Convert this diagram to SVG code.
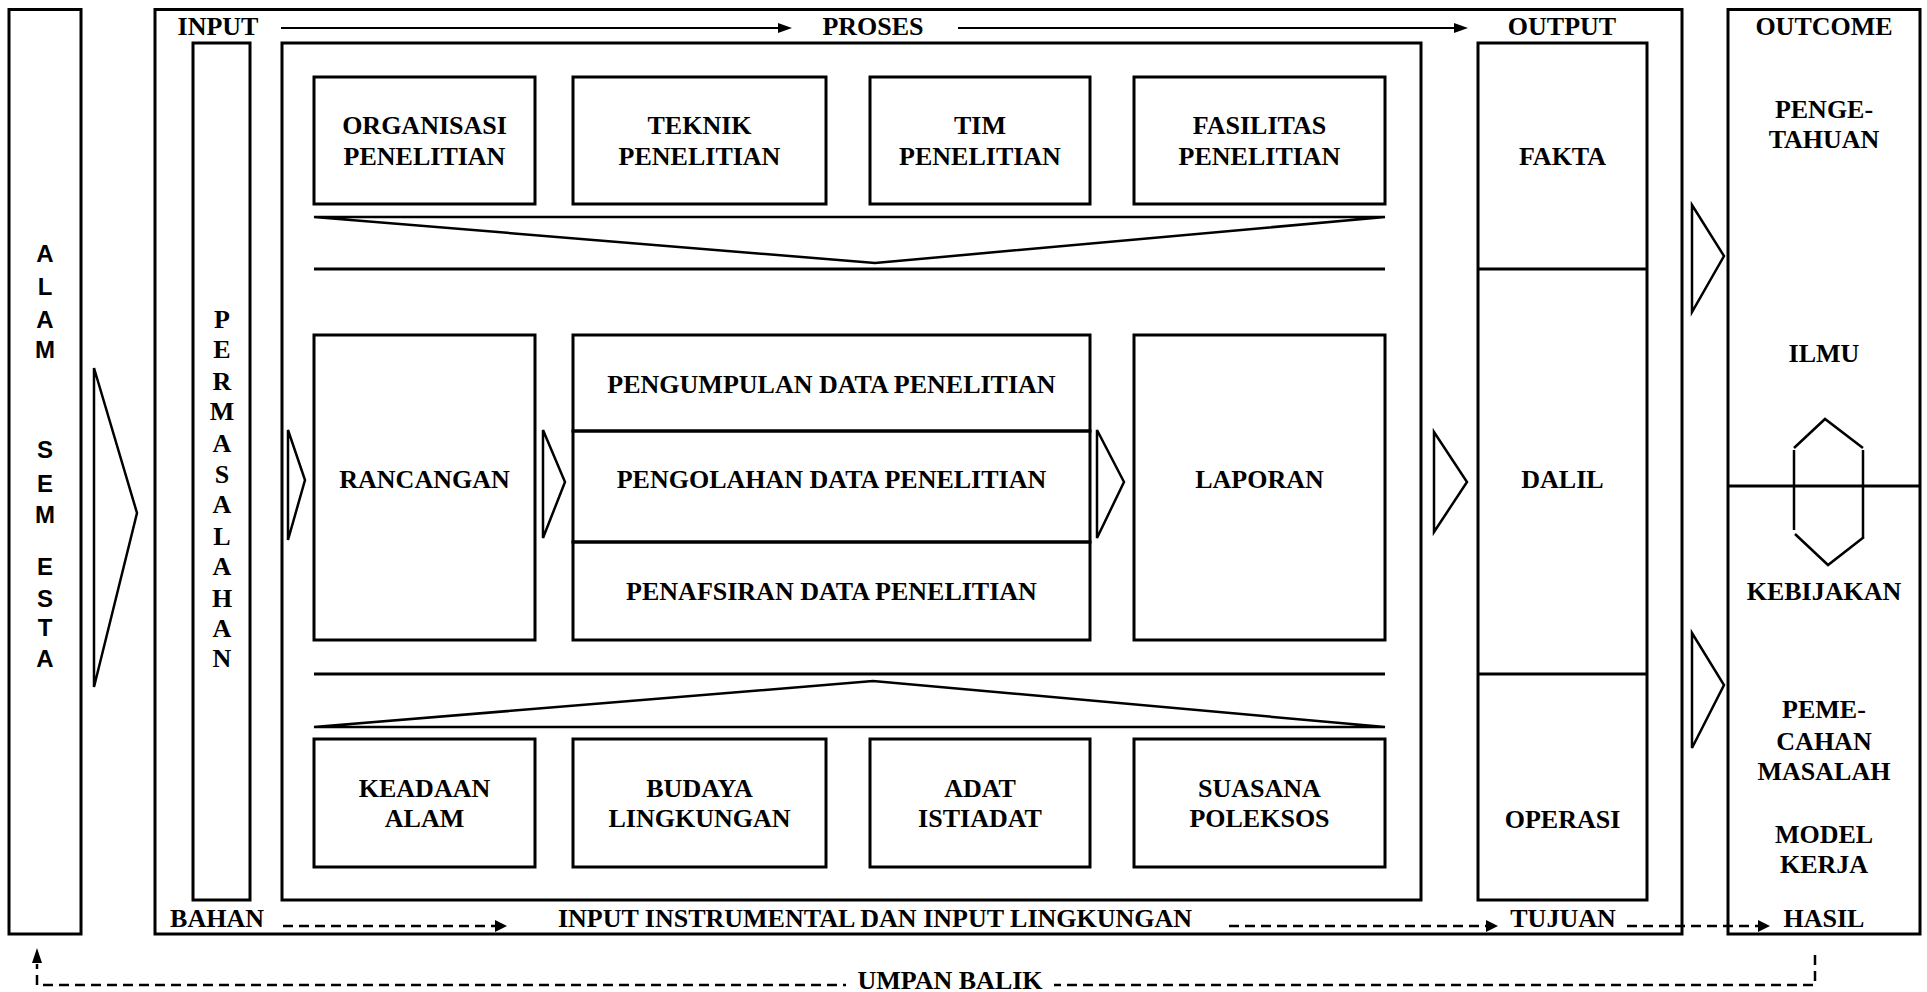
<svg xmlns="http://www.w3.org/2000/svg" width="1927" height="992" viewBox="0 0 1927 992">
  <style>
    .box { fill: none; stroke: #000; stroke-width: 3; }
    .thin { fill: none; stroke: #000; stroke-width: 2.5; stroke-linejoin: miter; }
    .line { stroke: #000; stroke-width: 3; fill: none; }
    .flow { stroke: #000; stroke-width: 2; fill: none; }
    .dash { stroke: #000; stroke-width: 2.5; fill: none; stroke-dasharray: 10 6; }
    .head { fill: #000; stroke: none; }
    .t { font-family: "Liberation Serif", "Times New Roman", serif; font-weight: bold; font-size: 26px; fill: #000; text-anchor: middle; }
    .s { font-family: "Liberation Sans", Arial, sans-serif; font-weight: bold; font-size: 24px; fill: #000; text-anchor: middle; }
  </style>
  <rect width="1927" height="992" fill="#fff"/>

  <!-- Universe column -->
  <g id="alam-semesta">
    <rect class="box" x="9" y="9.5" width="72" height="924.5"/>
    <text class="s" x="45" y="262">A</text>
    <text class="s" x="45" y="295">L</text>
    <text class="s" x="45" y="328">A</text>
    <text class="s" x="45" y="358">M</text>
    <text class="s" x="45" y="458">S</text>
    <text class="s" x="45" y="492">E</text>
    <text class="s" x="45" y="523">M</text>
    <text class="s" x="45" y="575">E</text>
    <text class="s" x="45" y="607">S</text>
    <text class="s" x="45" y="636">T</text>
    <text class="s" x="45" y="667">A</text>
  </g>

  <!-- Research system frame -->
  <g id="sistem">
    <rect class="box" x="155" y="9.5" width="1527" height="924.5"/>
    <text class="t" x="218" y="35">INPUT</text>
    <text class="t" x="873" y="35">PROSES</text>
    <text class="t" x="1562" y="35">OUTPUT</text>
    <text class="t" x="217" y="927">BAHAN</text>
    <text class="t" x="875" y="927">INPUT INSTRUMENTAL DAN INPUT LINGKUNGAN</text>
    <text class="t" x="1563" y="927">TUJUAN</text>
  </g>

  <g id="permasalahan">
    <rect class="box" x="193" y="43" width="57" height="857"/>
    <text class="t" x="222" y="328">P</text>
    <text class="t" x="222" y="358">E</text>
    <text class="t" x="222" y="390">R</text>
    <text class="t" x="222" y="420">M</text>
    <text class="t" x="222" y="452">A</text>
    <text class="t" x="222" y="483">S</text>
    <text class="t" x="222" y="513">A</text>
    <text class="t" x="222" y="545">L</text>
    <text class="t" x="222" y="575">A</text>
    <text class="t" x="222" y="607">H</text>
    <text class="t" x="222" y="637">A</text>
    <text class="t" x="222" y="667">N</text>
  </g>

  <g id="proses">
    <rect class="box" x="282" y="43" width="1139" height="857"/>
  </g>

  <!-- Instrumental inputs -->
  <g id="organisasi">
    <rect class="box" x="314" y="77" width="221" height="127"/>
    <text class="t" x="424.5" y="134">ORGANISASI</text>
    <text class="t" x="424.5" y="165">PENELITIAN</text>
  </g>
  <g id="teknik">
    <rect class="box" x="573" y="77" width="253" height="127"/>
    <text class="t" x="699.5" y="134">TEKNIK</text>
    <text class="t" x="699.5" y="165">PENELITIAN</text>
  </g>
  <g id="tim">
    <rect class="box" x="870" y="77" width="220" height="127"/>
    <text class="t" x="980" y="134">TIM</text>
    <text class="t" x="980" y="165">PENELITIAN</text>
  </g>
  <g id="fasilitas">
    <rect class="box" x="1134" y="77" width="251" height="127"/>
    <text class="t" x="1259.5" y="134">FASILITAS</text>
    <text class="t" x="1259.5" y="165">PENELITIAN</text>
  </g>

  <!-- Core process -->
  <g id="rancangan">
    <rect class="box" x="314" y="335" width="221" height="305"/>
    <text class="t" x="424.5" y="488">RANCANGAN</text>
  </g>
  <g id="pengumpulan">
    <rect class="box" x="573" y="335" width="517" height="96"/>
    <text class="t" x="831.5" y="393">PENGUMPULAN DATA PENELITIAN</text>
  </g>
  <g id="pengolahan">
    <rect class="box" x="573" y="431" width="517" height="111"/>
    <text class="t" x="831.5" y="488">PENGOLAHAN DATA PENELITIAN</text>
  </g>
  <g id="penafsiran">
    <rect class="box" x="573" y="542" width="517" height="98"/>
    <text class="t" x="831.5" y="600">PENAFSIRAN DATA PENELITIAN</text>
  </g>
  <g id="laporan">
    <rect class="box" x="1134" y="335" width="251" height="305"/>
    <text class="t" x="1259.5" y="488">LAPORAN</text>
  </g>

  <!-- Environmental inputs -->
  <g id="keadaan">
    <rect class="box" x="314" y="739" width="221" height="128"/>
    <text class="t" x="424.5" y="797">KEADAAN</text>
    <text class="t" x="424.5" y="827">ALAM</text>
  </g>
  <g id="budaya">
    <rect class="box" x="573" y="739" width="253" height="128"/>
    <text class="t" x="699.5" y="797">BUDAYA</text>
    <text class="t" x="699.5" y="827">LINGKUNGAN</text>
  </g>
  <g id="adat">
    <rect class="box" x="870" y="739" width="220" height="128"/>
    <text class="t" x="980" y="797">ADAT</text>
    <text class="t" x="980" y="827">ISTIADAT</text>
  </g>
  <g id="suasana">
    <rect class="box" x="1134" y="739" width="251" height="128"/>
    <text class="t" x="1259.5" y="797">SUASANA</text>
    <text class="t" x="1259.5" y="827">POLEKSOS</text>
  </g>

  <!-- Output column -->
  <g id="output">
    <rect class="box" x="1478" y="43" width="169" height="857"/>
    <line class="line" x1="1478" y1="269" x2="1647" y2="269"/>
    <line class="line" x1="1478" y1="674" x2="1647" y2="674"/>
    <text class="t" x="1562.5" y="165">FAKTA</text>
    <text class="t" x="1562.5" y="488">DALIL</text>
    <text class="t" x="1562.5" y="828">OPERASI</text>
  </g>

  <!-- Outcome column -->
  <g id="outcome">
    <rect class="box" x="1728" y="9.5" width="192" height="924.5"/>
    <line class="line" x1="1728" y1="486" x2="1920" y2="486"/>
    <text class="t" x="1824" y="35">OUTCOME</text>
    <text class="t" x="1824" y="118">PENGE-</text>
    <text class="t" x="1824" y="148">TAHUAN</text>
    <text class="t" x="1824" y="362">ILMU</text>
    <text class="t" x="1824" y="600">KEBIJAKAN</text>
    <text class="t" x="1824" y="718">PEME-</text>
    <text class="t" x="1824" y="750">CAHAN</text>
    <text class="t" x="1824" y="780">MASALAH</text>
    <text class="t" x="1824" y="843">MODEL</text>
    <text class="t" x="1824" y="873">KERJA</text>
    <text class="t" x="1824" y="927">HASIL</text>
    <!-- two-way link between ILMU and KEBIJAKAN -->
    <polyline class="thin" points="1794,448 1825,419 1863,448"/>
    <line class="thin" x1="1794" y1="450" x2="1794" y2="530"/>
    <line class="thin" x1="1863" y1="450" x2="1863" y2="537"/>
    <polyline class="thin" points="1795,534 1828,565 1864,537"/>
  </g>

  <!-- Connectors -->
  <g id="connectors">
    <!-- INPUT -> PROSES -> OUTPUT -->
    <line class="flow" x1="281" y1="28" x2="780" y2="28"/>
    <polygon class="head" points="778,23 792,28 778,33"/>
    <line class="flow" x1="958" y1="28" x2="1456" y2="28"/>
    <polygon class="head" points="1454,23 1468,28 1454,33"/>

    <!-- hollow flow arrows -->
    <polygon class="thin" points="94,368 137,513 94,687"/>
    <polygon class="thin" points="288,430 305,480 288,540"/>
    <polygon class="thin" points="543,430 565,482 543,538"/>
    <polygon class="thin" points="1097,430 1124,482 1097,538"/>
    <polygon class="thin" points="1434,432 1467,482 1434,532"/>
    <polygon class="thin" points="1692,205 1724,256 1692,312"/>
    <polygon class="thin" points="1692,633 1724,685 1692,748"/>

    <!-- instrumental inputs funnel -->
    <polygon class="thin" points="314,217 1385,217 875,263"/>
    <line class="line" x1="314" y1="269" x2="1385" y2="269"/>
    <!-- environmental inputs funnel -->
    <line class="line" x1="314" y1="674" x2="1385" y2="674"/>
    <polygon class="thin" points="314,727 1385,727 873,681"/>

    <!-- BAHAN -> INPUT LINGKUNGAN -> TUJUAN -> HASIL -->
    <line class="dash" x1="283" y1="926" x2="496" y2="926"/>
    <polygon class="head" points="495,920 507,926 495,932"/>
    <line class="dash" x1="1229" y1="926" x2="1487" y2="926"/>
    <polygon class="head" points="1486,920 1498,926 1486,932"/>
    <line class="dash" x1="1627" y1="926" x2="1759" y2="926"/>
    <polygon class="head" points="1758,920 1770,926 1758,932"/>

    <!-- feedback loop -->
    <polyline class="dash" points="1815,955 1815,985 37,985 37,964"/>
    <polygon class="head" points="32,963 37,948 42,963"/>
    <rect x="846" y="968" width="208" height="24" fill="#fff"/>
    <text class="t" x="950" y="989">UMPAN BALIK</text>
  </g>
</svg>
